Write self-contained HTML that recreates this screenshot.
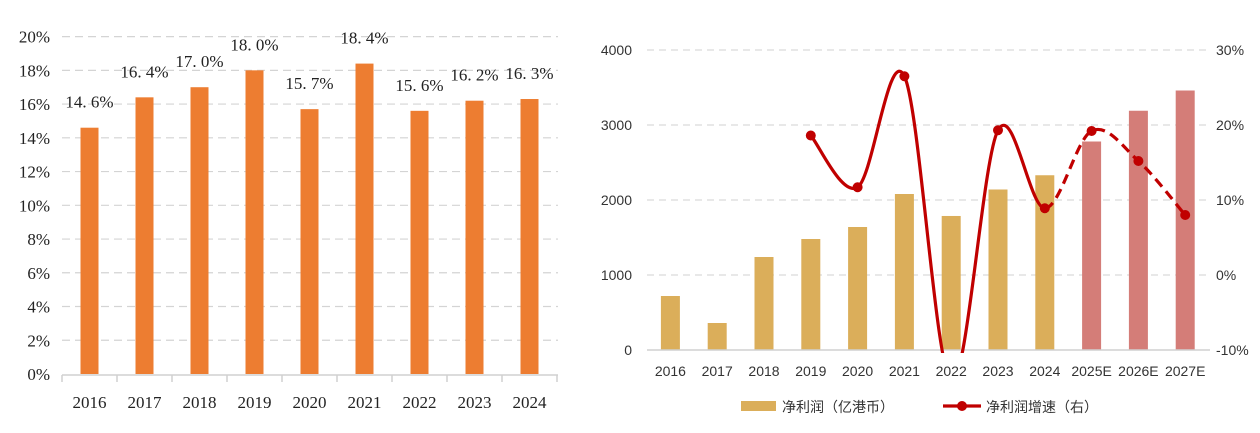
<!DOCTYPE html>
<html><head><meta charset="utf-8"><style>
body{margin:0;background:#fff;width:1260px;height:433px;overflow:hidden}
svg{display:block}
.l text{font-family:"Liberation Serif","Noto Serif CJK SC",serif;font-size:17px;fill:#222}
.r text{font-family:"Liberation Sans","Noto Sans CJK SC",sans-serif;font-size:14px;fill:#333}
</style></head><body>
<svg id="c" width="1260" height="433" xmlns="http://www.w3.org/2000/svg">
<g class="l" id="left"></g>
<g class="r" id="right"></g>
</svg>
<script>
const leftCats=["2016","2017","2018","2019","2020","2021","2022","2023","2024"];
const leftVals=[14.6,16.4,17.0,18.0,15.7,18.4,15.6,16.2,16.3];
const leftTicks=[0,2,4,6,8,10,12,14,16,18,20];
const rightCats=["2016","2017","2018","2019","2020","2021","2022","2023","2024","2025E","2026E","2027E"];
const profitVals=[720,360,1240,1480,1640,2080,1787,2140,2330,2780,3190,3460];
const growthVals=[null,null,null,18.6,11.7,26.5,-14.1,19.3,8.9,19.2,15.2,8.0];
const leftAxisTicks=[0,1000,2000,3000,4000];
const rightAxisTicks=[-10,0,10,20,30];
const NS="http://www.w3.org/2000/svg";
function mk(p,t,a,txt){const e=document.createElementNS(NS,t);for(const k in a)e.setAttribute(k,a[k]);if(txt!=null)e.textContent=txt;p.appendChild(e);return e;}
// LEFT
const L=document.getElementById('left');
const lx0=62,lstep=55,ly=v=>374-v*16.87;
const lx=i=>lx0+lstep*(i+0.5);
leftTicks.forEach(t=>{
 if(t>0){const g=mk(L,'line',{x1:lx0,x2:558,y1:ly(t),y2:ly(t),stroke:'#d4d4d4','stroke-width':1.2,'stroke-dasharray':'8,5'});
 }
 const e=mk(L,'text',{x:50,y:ly(t)+6,'text-anchor':'end'},t+'%');
 
});
leftVals.forEach((v,i)=>{
 const b=mk(L,'rect',{x:lx(i)-9,y:ly(v),width:18,height:ly(0)-ly(v),fill:'#ED7D31'});
 
 const t=mk(L,'text',{x:lx(i),y:ly(v)-20,'text-anchor':'middle'},v.toFixed(1).replace('.','. ')+'%');
 
 const c=mk(L,'text',{x:lx(i),y:408,'text-anchor':'middle'},leftCats[i]);
 
});
const la=mk(L,'line',{x1:lx0,x2:558,y1:375,y2:375,stroke:'#d0d0d0','stroke-width':1.5});

for(let i=0;i<=leftCats.length;i++){const k=mk(L,'line',{x1:lx0+lstep*i,x2:lx0+lstep*i,y1:375,y2:382,stroke:'#d0d0d0','stroke-width':1.5});
 }
// RIGHT
const R=document.getElementById('right');
const rx0=647,rstep=46.8,ry=v=>350-v*0.075,gy=v=>275-v*7.5;
const rx=i=>rx0+rstep*(i+0.5);
leftAxisTicks.forEach(t=>{
 if(t>0){const g=mk(R,'line',{x1:rx0,x2:1210,y1:ry(t),y2:ry(t),stroke:'#d9d9d9','stroke-width':1.2,'stroke-dasharray':'7,5'});
 }
 const e=mk(R,'text',{x:632,y:ry(t)+5,'text-anchor':'end'},String(t));
 
});
rightAxisTicks.forEach(t=>{
 const e=mk(R,'text',{x:1216,y:gy(t)+5},t+'%');
 
});
profitVals.forEach((v,i)=>{
 const b=mk(R,'rect',{x:rx(i)-9.5,y:ry(v),width:19,height:ry(0)-ry(v),fill:i>=9?'#D47D78':'#DBAE5A'});
 
 const c=mk(R,'text',{x:rx(i),y:376,'text-anchor':'middle'},rightCats[i]);
 
});
const ra=mk(R,'line',{x1:rx0,x2:1210,y1:350,y2:350,stroke:'#d0d0d0','stroke-width':1.5});

// growth line
const pts=[];growthVals.forEach((v,i)=>{if(v!=null)pts.push([rx(i),gy(v)]);});
function seg(a,b){const p0=pts[Math.max(a-1,0)],p1=pts[a],p2=pts[b],p3=pts[Math.min(b+1,pts.length-1)];
 const c1=[p1[0]+(p2[0]-p0[0])/6,p1[1]+(p2[1]-p0[1])/6],c2=[p2[0]-(p3[0]-p1[0])/6,p2[1]-(p3[1]-p1[1])/6];
 return ` C${c1[0]},${c1[1]} ${c2[0]},${c2[1]} ${p2[0]},${p2[1]}`;}
const split=growthVals.indexOf(8.9)-3; // index of 2024 in pts
let d1=`M${pts[0][0]},${pts[0][1]}`;for(let i=0;i<split;i++)d1+=seg(i,i+1);
let d2=`M${pts[split][0]},${pts[split][1]}`;for(let i=split;i<pts.length-1;i++)d2+=seg(i,i+1);
const cp=mk(R,'clipPath',{id:'clip'});mk(cp,'rect',{x:rx0,y:40,width:570,height:313});
const s1=mk(R,'path',{d:d1,fill:'none',stroke:'#C00000','stroke-width':3.2,'clip-path':'url(#clip)'});

const s2=mk(R,'path',{d:d2,fill:'none',stroke:'#C00000','stroke-width':3.2,'stroke-dasharray':'10,6'});

growthVals.forEach((v,i)=>{if(v==null||gy(v)>352)return;
 const c=mk(R,'circle',{cx:rx(i),cy:gy(v),r:5,fill:'#C00000'});
 });
// legend
const lg=mk(R,'g',{});
const l1=mk(lg,'rect',{x:741,y:401,width:35,height:10,fill:'#DBAE5A'});
const t1=mk(lg,'text',{x:782,y:412},'净利润（亿港币）');
const l2=mk(lg,'line',{x1:943,x2:981,y1:406,y2:406,stroke:'#C00000','stroke-width':3.2});
const l3=mk(lg,'circle',{cx:962,cy:406,r:5,fill:'#C00000'});
const t2=mk(lg,'text',{x:986,y:412},'净利润增速（右）');
</script>
</body></html>
